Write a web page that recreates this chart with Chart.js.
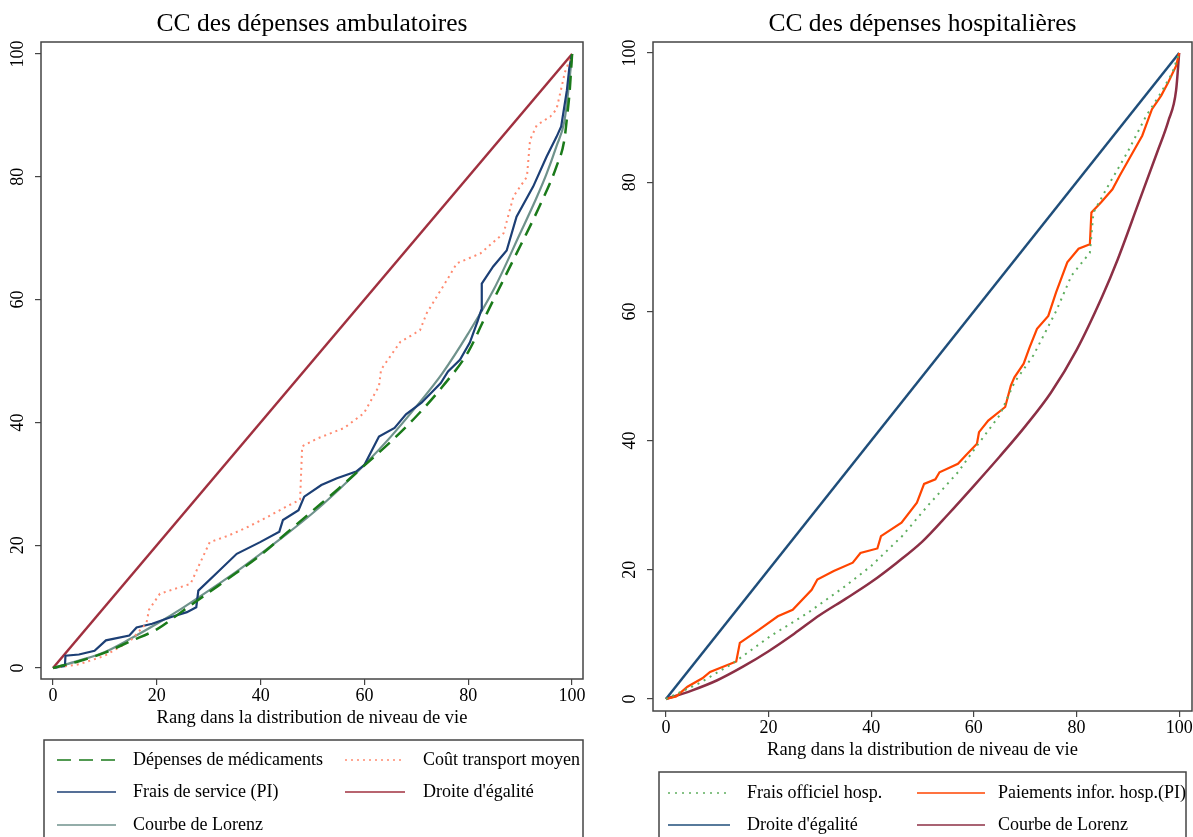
<!DOCTYPE html>
<html lang="fr">
<head>
<meta charset="utf-8">
<title>CC des dépenses</title>
<script src="https://cdn.jsdelivr.net/npm/chart.js@4.4.1/dist/chart.umd.min.js"></script>
<style>
  html, body { margin: 0; padding: 0; background: #fff; overflow: hidden; }
  body { width: 1193px; height: 837px; position: relative; }
  canvas { position: absolute; top: 0; }
  #cc-ambu { left: 0; }
  #cc-hosp { left: 597px; }
</style>
</head>
<body>
<canvas id="cc-ambu" width="596" height="837"></canvas>
<canvas id="cc-hosp" width="596" height="837"></canvas>
<script>
// graduations communes
const xTicks = [0, 20, 40, 60, 80, 100];
const yTicks = [0, 20, 40, 60, 80, 100];

// --- CC des dépenses ambulatoires ---
const egaliteX = [0, 100];
const egaliteY = [0, 100];

const lorenzAmbX = [0, 5, 10, 15, 20, 25, 30, 35, 40, 45, 50, 55, 60, 65, 70, 75, 80, 85, 90, 93, 95, 97, 98.5, 99.4, 100];
const lorenzAmbY = [0, 1.2, 2.6, 4.8, 7.2, 9.8, 12.6, 15.5, 18.6, 21.8, 25.2, 29, 33.1, 37.6, 42.6, 48, 54.5, 61.8, 70.8, 76.3, 80.3, 85, 89, 95, 100];

const medicX = [0, 5, 10, 15, 20, 25, 30, 35, 40, 45, 50, 55, 60, 65, 70, 75, 80, 83.6, 88.7, 93.5, 97, 98.5, 99.1, 99.5, 100];
const medicY = [0, 1.1, 2.5, 4.4, 6.3, 9.3, 12.3, 15.3, 18.4, 22, 25.6, 29.2, 33, 36.8, 41, 45.8, 51.5, 57.8, 66.5, 74.8, 81.7, 86, 90.3, 93.6, 100];

const fraisServX = [0, 2.3, 2.4, 5, 8, 10.2, 14.7, 16.1, 19.1, 22.8, 25.8, 27.6, 28, 31.7, 35.4, 39.9, 43.6, 44.3, 47.3, 48.4, 51.7, 54.7, 58.4, 60, 62.8, 65.8, 68, 71, 74.7, 76.1, 78.4, 80.3, 81.8, 82.5, 82.6, 84.8, 87.4, 89.3, 92.5, 95.1, 97, 97.9, 99, 99.5, 100];
const fraisServY = [0, 0.3, 2.0, 2.2, 2.8, 4.5, 5.3, 6.6, 7.2, 8.3, 9.1, 9.9, 12.6, 15.6, 18.6, 20.5, 22.2, 24.1, 25.7, 27.9, 29.8, 30.9, 32, 33.1, 37.7, 39.1, 41.3, 43.2, 46.4, 48.3, 50.2, 53, 56.5, 58.3, 62.6, 65.4, 68, 73.5, 78.4, 83.3, 86.5, 88.2, 94.1, 98, 100];

const transportX = [0, 5, 10, 15, 18, 18.5, 20.6, 23.5, 26.5, 28, 30.2, 33.9, 37.6, 41.3, 45, 47.6, 48, 51, 56.1, 59.9, 62.8, 63.2, 66.9, 70.7, 72, 75.9, 77.8, 82.3, 86.8, 88.7, 91.3, 91.9, 93.2, 95.8, 97, 98, 98.6, 100];
const transportY = [0, 0.6, 2, 4.5, 7.3, 9.5, 12.1, 12.9, 13.7, 16.5, 20.5, 21.6, 23, 24.6, 26.3, 27.4, 36.1, 37.4, 39.1, 41.5, 45.9, 48.6, 53.1, 55, 57.8, 63.2, 65.9, 67.5, 70.8, 76.8, 80, 86, 88.4, 89.8, 91, 94.7, 97, 100];

// --- CC des dépenses hospitalières ---
const lorenzHospX = [0, 5, 10, 15, 20, 25, 30, 35, 40, 45, 50, 55, 60, 65, 70, 75, 80, 85, 88, 92, 95.7, 97.9, 99.4, 100];
const lorenzHospY = [0, 1.3, 2.9, 5, 7.4, 10.1, 13, 15.5, 18.1, 21.1, 24.4, 28.6, 33, 37.5, 42.2, 47.4, 54, 62.3, 68, 76.6, 84.6, 89.5, 94.2, 100];

const officielX = [0, 6.4, 13, 20.3, 27.6, 35, 40, 46, 51, 56.9, 60.6, 65, 67.9, 71.6, 76, 79, 82.6, 83.3, 86.2, 89.9, 93.6, 96.5, 98.7, 100];
const officielY = [0, 2.4, 5.5, 9.7, 13.3, 17.5, 20.6, 25.2, 29.9, 35.1, 39.2, 43.9, 49, 53.2, 60, 65.5, 69.1, 75.3, 79.5, 84.6, 90.3, 93.9, 97, 100];

const informelX = [0, 2, 4.2, 7.1, 8.6, 13.7, 14.4, 18.1, 21.8, 24.7, 28.4, 29.5, 32.7, 36.4, 37.9, 41.2, 41.9, 45.9, 48.9, 50.3, 52.5, 53.3, 56.9, 58.4, 60.6, 61, 62.8, 66.1, 67.2, 67.9, 69.7, 70.8, 72.3, 74.5, 76, 78.2, 80.4, 82.6, 82.9, 84.8, 87, 88.4, 90.6, 92.8, 94.7, 96.5, 97.9, 99.4, 100];
const informelY = [0, 0.4, 1.9, 3.2, 4.2, 5.8, 8.7, 10.7, 12.8, 13.8, 16.9, 18.5, 19.8, 21.1, 22.6, 23.3, 25.2, 27.3, 30.4, 33.3, 34, 35.1, 36.4, 37.7, 39.5, 41.3, 43.1, 45.2, 48.5, 49.8, 51.9, 54.3, 57.3, 59.3, 62.9, 67.6, 69.7, 70.4, 75.3, 76.9, 78.9, 81, 84.1, 87.2, 91.3, 93.4, 95.5, 98, 100];

const pts = (xs, ys) => xs.map((x, i) => ({ x, y: ys[i] }));

Chart.defaults.font.family = '"Liberation Serif", "Times New Roman", serif';
Chart.defaults.color = '#000';

// cadre autour de la zone du graphique
const framePlugin = {
    id: 'frame',
    afterDatasetsDraw(chart) {
        const { ctx, chartArea: a } = chart;
        ctx.save();
        ctx.strokeStyle = '#444';
        ctx.lineWidth = 1.5;
        ctx.strokeRect(a.left, a.top, a.right - a.left, a.bottom - a.top);
        ctx.restore();
    }
};

// légende encadrée sur deux colonnes, comme dans Stata
const boxLegend = {
    id: 'boxLegend',
    afterDraw(chart, args, opts) {
        const { ctx, chartArea } = chart;
        const top = chartArea.bottom + opts.offset;
        ctx.save();
        ctx.strokeStyle = '#444';
        ctx.lineWidth = 1.5;
        ctx.strokeRect(opts.left, top, opts.right - opts.left, chart.height - top + 10);
        ctx.font = '18px "Liberation Serif"';
        ctx.textBaseline = 'middle';
        ctx.fillStyle = '#000';
        chart.data.datasets.forEach((ds, i) => {
            const col = opts.cols[i % 2];
            const y = top + opts.rows[Math.floor(i / 2)];
            ctx.beginPath();
            ctx.setLineDash(ds.borderDash || []);
            ctx.strokeStyle = ds.borderColor;
            ctx.lineWidth = 1.6;
            ctx.moveTo(col[0], y);
            ctx.lineTo(col[1], y);
            ctx.stroke();
            ctx.setLineDash([]);
            ctx.fillText(ds.label, col[2], y);
        });
        ctx.restore();
    }
};

const tickGrid = { display: true, drawOnChartArea: false, drawTicks: true, tickLength: 6, color: '#444', lineWidth: 1.2 };

function makeChart(id, title, datasets, xRange, yRange, padding, legend) {
    return new Chart(document.getElementById(id), {
        type: 'line',
        data: { datasets },
        options: {
            responsive: false,
            animation: false,
            layout: { padding },
            elements: { point: { radius: 0 } },
            scales: {
                x: {
                    type: 'linear', min: xRange[0], max: xRange[1],
                    afterBuildTicks: (s) => { s.ticks = xTicks.map(v => ({ value: v })); },
                    grid: tickGrid,
                    border: { display: false },
                    ticks: { padding: 0, minRotation: 0, maxRotation: 0, font: { size: 18 } },
                    title: {
                        display: true, text: 'Rang dans la distribution de niveau de vie',
                        font: { size: 18.5 }, padding: { top: 0, bottom: 0 }
                    }
                },
                y: {
                    type: 'linear', min: yRange[0], max: yRange[1],
                    afterBuildTicks: (s) => { s.ticks = yTicks.map(v => ({ value: v })); },
                    grid: tickGrid,
                    border: { display: false },
                    ticks: { padding: 3.5, minRotation: 90, maxRotation: 90, crossAlign: 'center', font: { size: 18 } }
                }
            },
            plugins: {
                legend: { display: false },
                tooltip: { enabled: false },
                title: {
                    display: true, text: title, fullSize: false,
                    font: { size: 25.5, weight: 'normal' }, padding: { top: 8.7, bottom: 2.7 }
                },
                boxLegend: legend
            }
        },
        plugins: [framePlugin, boxLegend]
    });
}

makeChart('cc-ambu', 'CC des dépenses ambulatoires', [
    { label: 'Dépenses de médicaments', data: pts(medicX, medicY), borderColor: '#1a7a1a', borderWidth: 2.5, borderDash: [14, 8], cubicInterpolationMode: 'monotone' },
    { label: 'Coût transport moyen', data: pts(transportX, transportY), borderColor: '#ff8a70', borderWidth: 2, borderDash: [2, 4] },
    { label: 'Frais de service (PI)', data: pts(fraisServX, fraisServY), borderColor: '#1c3f75', borderWidth: 2.2 },
    { label: "Droite d'égalité", data: pts(egaliteX, egaliteY), borderColor: '#a0303f', borderWidth: 2.5 },
    { label: 'Courbe de Lorenz', data: pts(lorenzAmbX, lorenzAmbY), borderColor: '#6f928c', borderWidth: 2.2, cubicInterpolationMode: 'monotone' }
], [-2.31, 102.1], [-1.79, 101.95], { left: 6.4, right: 13, top: 0, bottom: 108.2 }, {
    offset: 61, left: 44, right: 583, rows: [20, 52, 85],
    cols: [[57, 116, 133], [345, 405, 423]]
});

makeChart('cc-hosp', 'CC des dépenses hospitalières', [
    { label: 'Frais officiel hosp.', data: pts(officielX, officielY), borderColor: '#5fae5f', borderWidth: 2, borderDash: [2, 5] },
    { label: 'Paiements infor. hosp.(PI)', data: pts(informelX, informelY), borderColor: '#ff4500', borderWidth: 2.2 },
    { label: "Droite d'égalité", data: pts(egaliteX, egaliteY), borderColor: '#1f4e7a', borderWidth: 2.5 },
    { label: 'Courbe de Lorenz', data: pts(lorenzHospX, lorenzHospY), borderColor: '#8c2f45', borderWidth: 2.5, cubicInterpolationMode: 'monotone' }
], [-2.52, 102.5], [-1.86, 101.7], { left: 21.4, right: 1, top: 0, bottom: 76.2 }, {
    offset: 61, left: 62, right: 589, rows: [21, 53],
    cols: [[71, 133, 150], [320, 388, 401]]
});
</script>
</body>
</html>
